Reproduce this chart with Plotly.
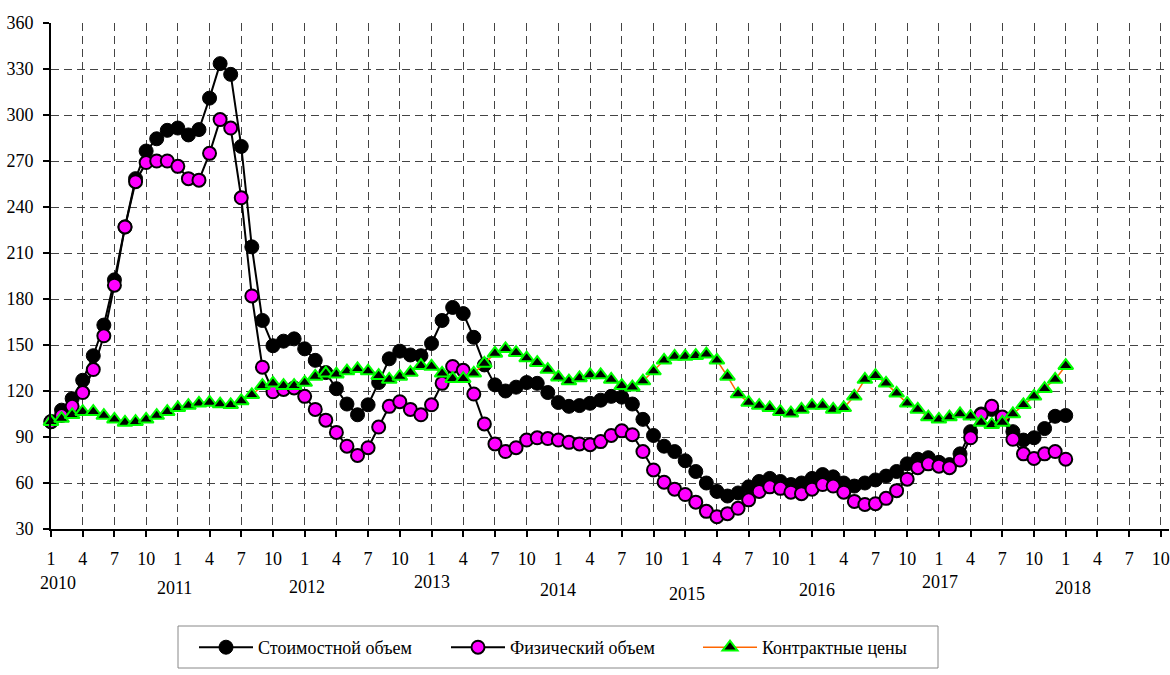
import plotly.graph_objects as go

# ---------------- data ----------------
month_index = list(range(97))  # 2010-01 ... 2018-01
tick_positions = list(range(0, 106, 3))
tick_labels = ["1", "4", "7", "10"] * 9
year_labels = ["2010", "2011", "2012", "2013", "2014", "2015", "2016", "2017", "2018"]

value_volume = [
    100, 107.5, 115, 127, 143, 163, 192.5, 227, 258.5, 276.5, 284.5, 290,
    291.5, 287, 290.5, 311, 333.5, 326.5, 279.5, 214, 166, 149.5, 152.5, 154,
    147.5, 140, 132, 121.5, 111.5, 104.5, 111, 125.5, 141, 146, 143.5, 143,
    151, 166, 174.5, 170.5, 155, 137, 124, 120, 122.5, 125.5, 125, 119,
    112.5, 110, 110.5, 112, 114, 116.5, 116, 111.5, 101.5, 91, 84, 80.5,
    74.5, 67.5, 60, 54.5, 51.5, 53.5, 57.5, 61, 63, 61, 59, 60,
    63, 65.5, 64, 60, 58, 60, 62, 64.5, 67.5, 72.5, 75.5, 76.5,
    73.5, 72, 79, 93.5, 105, 108, 102, 93.5, 88, 89.5, 95.5, 103.5,
    104,
]
physical_volume = [
    100, 104, 110, 119, 134, 156, 189, 227, 256.5, 269, 270, 270,
    266.5, 258.5, 257.5, 275, 297, 291.5, 246, 182, 135.5, 119.5, 121, 122,
    116.5, 108, 101, 93, 84, 78, 83, 96.5, 110, 113, 108, 104.5,
    111, 125, 136, 133.5, 118, 98.5, 85.5, 80.5, 83, 88, 89.5, 89,
    88, 86.5, 85.5, 85, 87, 91, 94, 91.5, 80.5, 68.5, 60.5, 56,
    52.5, 47.5, 41.5, 38, 40, 43.5, 49, 54.5, 57.5, 56.5, 54, 53,
    56, 59, 58, 54, 48, 46, 46.5, 50, 55, 62.5, 70, 72.5,
    71, 70, 75, 89.5, 104.5, 110, 103, 88.5, 79, 76, 79, 80.5,
    75.5,
]
contract_prices = [
    100, 102, 104.5, 106.5, 106.5, 104, 101.5, 99.5, 100, 101.5, 104, 106.5,
    109, 110.5, 112, 112.5, 111.5, 111, 113.5, 117.5, 123.5, 125, 123.5, 123.5,
    125.5, 129.5, 131.5, 131, 133, 134.5, 133, 130, 127.5, 129.5, 132, 136.5,
    136, 131.5, 128, 128, 131.5, 138, 144.5, 147.5, 145, 141.5, 138.5, 134,
    129, 126.5, 128.5, 130.5, 130.5, 127.5, 123.5, 122.5, 126.5, 133, 140, 142.5,
    142.5, 143, 144, 140, 129.5, 118, 112.5, 110.5, 109, 106.5, 105.5, 108,
    110.5, 110.5, 108, 109, 116.5, 127.5, 130, 125, 118.5, 112, 108, 103,
    101.5, 103, 105, 103.5, 99.5, 98, 99.5, 105, 111, 116.5, 121.5, 127.5,
    136.5,
]

# ---------------- styling / layout ----------------
FONT = "Liberation Serif, Times New Roman, serif"
FS = 18
W, H = 1170, 675
X_RANGE = [0, 105.77]
Y_RANGE = [30, 360]
PLOT_LEFT_PX = 51
PLOT_TOP_PX = 23
PLOT_W_PX = W - PLOT_LEFT_PX - 1
PLOT_H_PX = 506
PLOT_BOTTOM_PX = PLOT_TOP_PX + PLOT_H_PX


def px_x(px):
    return (px - PLOT_LEFT_PX) / PLOT_W_PX


def px_y(py):
    return (PLOT_BOTTOM_PX - py) / PLOT_H_PX


fig = go.Figure()
fig.add_trace(go.Scatter(
    x=month_index, y=value_volume, name="Стоимостной объем",
    mode="lines+markers", cliponaxis=False,
    line=dict(color="black", width=2),
    marker=dict(symbol="circle", size=14, color="black",
                line=dict(color="black", width=1)),
))
fig.add_trace(go.Scatter(
    x=month_index, y=physical_volume, name="Физический объем",
    mode="lines+markers", cliponaxis=False,
    line=dict(color="black", width=2),
    marker=dict(symbol="circle", size=13, color="#FF00FF",
                line=dict(color="black", width=2)),
))
fig.add_trace(go.Scatter(
    x=month_index, y=contract_prices, name="Контрактные цены",
    mode="lines+markers", cliponaxis=False,
    line=dict(color="#FF6600", width=1.5),
    marker=dict(symbol="triangle-up", size=13, color="black",
                line=dict(color="#00FF00", width=2)),
))

axis_common = dict(
    showline=True, linecolor="black", linewidth=2, automargin=False,
    ticks="outside", ticklen=6, tickwidth=1.5, tickcolor="black",
    showgrid=True, gridcolor="#444444", gridwidth=1, griddash="8px,5px",
    zeroline=False, tickfont=dict(family=FONT, size=FS, color="black"),
)

fig.update_layout(
    width=W, height=H,
    margin=dict(l=PLOT_LEFT_PX, r=1, t=PLOT_TOP_PX, b=H - PLOT_BOTTOM_PX),
    paper_bgcolor="white", plot_bgcolor="white",
    font=dict(family=FONT, size=FS, color="black"),
    xaxis=dict(range=X_RANGE, tickmode="array", tickvals=tick_positions,
               ticktext=tick_labels, ticklabelstandoff=6,
               ticklabeloverflow="allow", **axis_common),
    yaxis=dict(range=Y_RANGE, tickmode="array",
               tickvals=list(range(30, 361, 30)), ticklabelstandoff=6,
               **axis_common),
    xaxis2=dict(range=X_RANGE, overlaying="x", anchor="y", side="bottom",
                tickmode="array", tickvals=tick_positions, ticks="inside",
                ticklen=6, tickwidth=1.5, tickcolor="black",
                showticklabels=False, showgrid=False, showline=False,
                zeroline=False),
    yaxis2=dict(range=Y_RANGE, overlaying="y", anchor="x", side="left",
                tickmode="array", tickvals=list(range(30, 361, 30)),
                ticks="inside", ticklen=6, tickwidth=1.5, tickcolor="black",
                showticklabels=False, showgrid=False, showline=False,
                zeroline=False),
    showlegend=True,
    legend=dict(orientation="h", x=px_x(194), y=px_y(629), xanchor="left",
                yanchor="top", borderwidth=0, bgcolor="rgba(0,0,0,0)",
                font=dict(family=FONT, size=FS, color="black"),
                itemwidth=54, entrywidth=183),
)

# legend frame
fig.add_shape(type="rect", xref="paper", yref="paper",
              x0=px_x(178), x1=px_x(938), y0=px_y(626), y1=px_y(668),
              line=dict(color="#888888", width=1), fillcolor="rgba(0,0,0,0)",
              layer="below")

# year labels under the month ticks
year_x = [0.7, 11.7, 24.2, 36, 48, 60.2, 72.5, 84.1, 96.7]
year_y_px = [583, 588, 587, 582, 590, 594, 590, 582, 588]
for label, xv, ypx in zip(year_labels, year_x, year_y_px):
    fig.add_annotation(
        x=xv, xref="x", y=px_y(ypx), yref="paper", text=label,
        showarrow=False, yanchor="middle", xanchor="center",
        font=dict(family=FONT, size=FS, color="black"),
    )

fig.write_html("out.html", config={"displayModeBar": False},
               post_script="document.body.style.margin='0px';")
